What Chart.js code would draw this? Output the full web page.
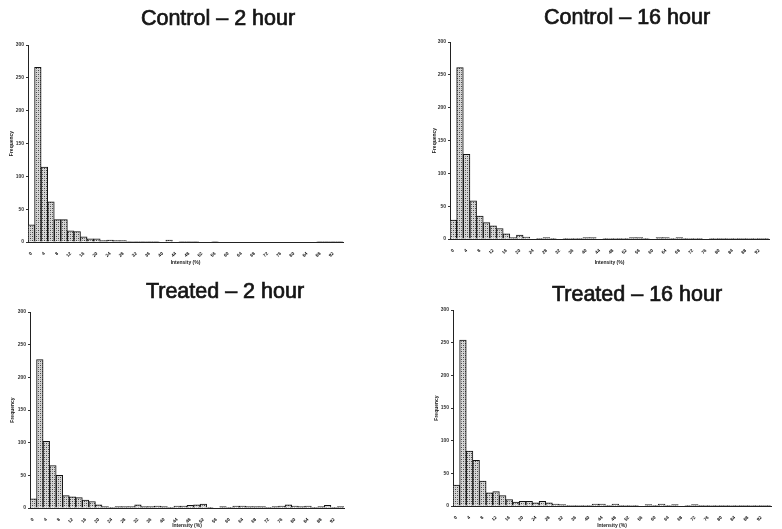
<!DOCTYPE html>
<html>
<head>
<meta charset="utf-8">
<script src="https://cdn.jsdelivr.net/npm/chart.js@4.4.1/dist/chart.umd.min.js"></script>
<style>
  html, body { margin: 0; padding: 0; background: #fff; }
  #page { position: relative; width: 782px; height: 529px; overflow: hidden; background: #fff; }
  #page canvas { position: absolute; }
</style>
</head>
<body>
<div id="page">
  <canvas id="ctl2" width="391" height="266" style="left:0;top:0"></canvas>
  <canvas id="ctl16" width="391" height="266" style="left:391px;top:0"></canvas>
  <canvas id="trt2" width="391" height="264" style="left:0;top:265px"></canvas>
  <canvas id="trt16" width="391" height="264" style="left:391px;top:265px"></canvas>
</div>
<script>
// intensity bins (%), one bar per bin
const bins = ['0','2','4','6','8','10','12','14','16','18','20','22','24','26','28','30',
  '32','34','36','38','40','42','44','46','48','50','52','54','56','58','60','62',
  '64','66','68','70','72','74','76','78','80','82','84','86','88','90','92','94'];

const yTicks = [0, 50, 100, 150, 200, 250, 300];

// frequency per bin
const control2h = [26,266,114,61,34,34,17,16,8,5,5,2,3,2,2,1,
  1,1,1,1,0,3,0,1,1,1,0,0,1,0,0,0,
  0,0,0,0,0,0,0,0,0,0,0,0,1,1,1,1];
const control16h = [29,261,129,58,35,25,20,16,8,2,6,3,0,1,2,1,
  0,1,1,1,2,2,0,1,1,1,1,2,2,1,0,2,
  2,1,2,1,1,1,0,1,1,1,1,1,1,1,1,1];
const treated2h = [14,227,102,65,50,19,17,16,12,10,5,2,1,2,2,2,
  5,2,2,3,2,1,3,3,4,5,6,1,0,2,1,3,
  3,2,2,2,1,2,3,5,3,2,3,1,2,4,1,2];
const treated16h = [32,254,84,70,38,20,22,16,10,6,7,7,5,7,5,3,
  2,1,1,1,1,3,3,1,3,1,1,1,0,2,1,3,
  1,2,0,1,2,1,1,1,1,1,1,1,1,1,1,1];

const titles = ['Control \u2013 2 hour', 'Control \u2013 16 hour', 'Treated \u2013 2 hour', 'Treated \u2013 16 hour'];

// stippled grey fill like the printed bars
function stipple() {
  const c = document.createElement('canvas');
  c.width = 4; c.height = 4;
  const g = c.getContext('2d');
  g.fillStyle = '#d6d6d6';
  g.fillRect(0, 0, 4, 4);
  g.fillStyle = '#444';
  g.fillRect(0, 0, 1, 1);
  g.fillRect(2, 2, 1, 1);
  g.fillStyle = '#888';
  g.fillRect(2, 0, 1, 1);
  g.fillRect(0, 2, 1, 1);
  return g.createPattern(c, 'repeat');
}

// panel heading, placed where the scan has it
const panelTitle = {
  id: 'panelTitle',
  afterDraw(chart, args, opts) {
    const ctx = chart.ctx;
    ctx.save();
    ctx.font = opts.font;
    ctx.fillStyle = '#161616';
    ctx.strokeStyle = '#161616';
    ctx.lineWidth = 0.7;
    ctx.textAlign = 'center';
    ctx.textBaseline = 'middle';
    ctx.fillText(opts.text, opts.x, opts.y);
    ctx.strokeText(opts.text, opts.x, opts.y);
    ctx.restore();
  }
};

const tiny = { family: 'Liberation Sans', size: 5, weight: 'bold' };

function histogram(id, title, values, area, titlePos) {
  const canvas = document.getElementById(id);
  return new Chart(canvas.getContext('2d'), {
    type: 'bar',
    data: {
      labels: bins,
      datasets: [{
        label: 'Frequency',
        data: values,
        backgroundColor: stipple(),
        borderColor: '#111',
        borderWidth: 1,
        barPercentage: 1,
        categoryPercentage: 1,
      }],
    },
    options: {
      responsive: false,
      animation: false,
      layout: { padding: { left: area.axisLeft, top: area.top, right: canvas.width - area.right, bottom: 0 } },
      plugins: {
        legend: { display: false },
        tooltip: { enabled: false },
        panelTitle: { text: title, x: titlePos[0], y: titlePos[1], font: '21.5px "Liberation Sans", Arial, sans-serif' },
      },
      scales: {
        x: {
          grid: { display: false },
          border: { display: true, color: '#222', width: 1 },
          ticks: {
            autoSkip: false,
            minRotation: 45,
            maxRotation: 45,
            padding: 1,
            color: '#111',
            font: { family: 'Liberation Sans', size: 4.5, weight: 'bold' },
            callback: (v, i) => (i % 2 === 0 ? bins[i] : ''),
          },
          title: { display: true, text: 'Intensity (%)', color: '#222', font: tiny, padding: 0 },
          afterFit: (s) => { s.height = canvas.height - area.bottom; },
        },
        y: {
          min: 0,
          max: 300,
          afterBuildTicks: (s) => { s.ticks = yTicks.map((v) => ({ value: v })); },
          grid: { display: true, drawOnChartArea: false, drawTicks: true, tickLength: 2, color: '#333' },
          border: { display: true, color: '#222', width: 1 },
          ticks: { color: '#333', padding: 2, font: tiny },
          title: { display: true, text: 'Frequency', color: '#222', font: tiny, padding: 0 },
          afterFit: (s) => { s.width = area.left - area.axisLeft; },
        },
      },
    },
    plugins: [panelTitle],
  });
}

histogram('ctl2', titles[0], control2h, { axisLeft: 9, left: 28, top: 45, right: 343, bottom: 242 }, [218, 19]);
histogram('ctl16', titles[1], control16h, { axisLeft: 41, left: 59, top: 42, right: 378, bottom: 239 }, [236, 18]);
histogram('trt2', titles[2], treated2h, { axisLeft: 10, left: 30, top: 47, right: 344, bottom: 243 }, [225, 27]);
histogram('trt16', titles[3], treated16h, { axisLeft: 43, left: 62, top: 45, right: 380, bottom: 241 }, [246, 30]);
</script>
</body>
</html>
